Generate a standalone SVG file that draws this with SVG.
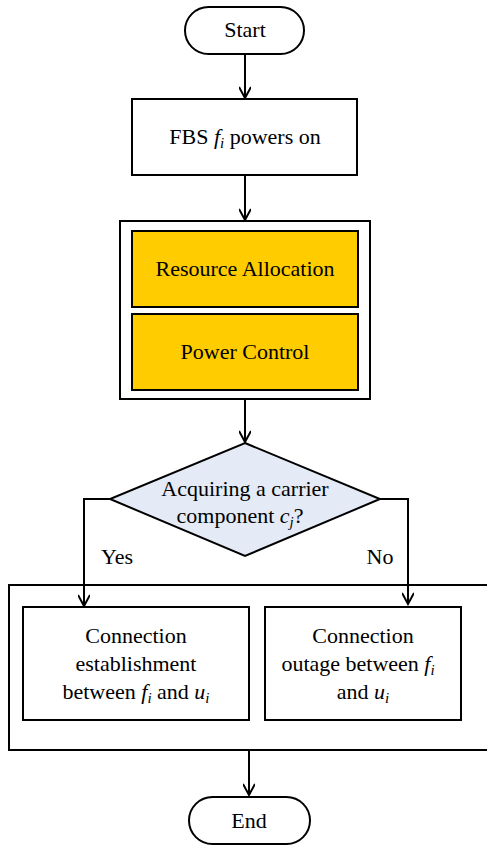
<svg xmlns="http://www.w3.org/2000/svg" width="487" height="846" viewBox="0 0 487 846" font-family="'Liberation Serif', 'DejaVu Serif', serif">
<defs>
<style>
text{font-family:'Liberation Serif','DejaVu Serif',serif;font-size:22px;fill:#000;text-anchor:middle}
.i{font-style:italic}
.s{font-size:15px;font-style:italic}
.b{fill:#fff;stroke:#000;stroke-width:2}
.y{fill:#FFCC00;stroke:#000;stroke-width:2}
.c{fill:none;stroke:#000;stroke-width:2}
</style>
<marker id="a" markerWidth="14" markerHeight="12" refX="12" refY="6" orient="auto" markerUnits="userSpaceOnUse">
<path d="M1,0 L12,6 L1,12" fill="none" stroke="#000" stroke-width="2"/>
</marker>
</defs>
<rect width="487" height="846" fill="#fff"/>
<g id="start"><rect class="b" x="185" y="7" width="119" height="47" rx="23.5"/><text x="245" y="37">Start</text></g>
<g id="fbs"><rect class="b" x="132" y="99" width="225" height="76"/><text x="245" y="144">FBS <tspan class="i">f</tspan><tspan class="s" dy="4">i</tspan><tspan dy="-4">  powers on</tspan></text></g>
<g id="group1"><rect class="b" x="120" y="221" width="250" height="178"/></g>
<g id="ra"><rect class="y" x="132" y="231" width="226" height="76"/><text x="245" y="276">Resource Allocation</text></g>
<g id="pc"><rect class="y" x="132" y="314" width="226" height="76"/><text x="245" y="359">Power Control</text></g>
<g id="decision"><polygon points="245,443 380,499 245,556 110,499" fill="#E4EAF6" stroke="#000" stroke-width="2"/><text x="245" y="496">Acquiring a carrier</text><text x="240" y="523">component <tspan class="i">c</tspan><tspan class="s" dy="4">j</tspan><tspan dy="-4">?</tspan></text></g>
<g id="group2"><path class="c" d="M490,585 L9,585 L9,750 L490,750"/></g>
<g id="est"><rect class="b" x="23" y="607" width="226" height="113"/><text x="136" y="643">Connection</text><text x="136" y="671">establishment</text><text x="136" y="699">between <tspan class="i">f</tspan><tspan class="s" dy="4">i</tspan><tspan dy="-4"> and </tspan><tspan class="i">u</tspan><tspan class="s" dy="4">i</tspan></text></g>
<g id="out"><rect class="b" x="265" y="607" width="196" height="113"/><text x="363" y="643">Connection</text><text x="358" y="671">outage between <tspan class="i">f</tspan><tspan class="s" dy="4">i</tspan></text><text x="363" y="699">and <tspan class="i">u</tspan><tspan class="s" dy="4">i</tspan></text></g>
<g id="end"><rect class="b" x="189" y="797" width="121" height="47" rx="23.5"/><text x="249" y="828">End</text></g>
<g id="connectors">
<path class="c" d="M245,54 L245,98" marker-end="url(#a)"/>
<path class="c" d="M245,175 L245,220" marker-end="url(#a)"/>
<path class="c" d="M245,399 L245,442" marker-end="url(#a)"/>
<path class="c" d="M110,499 L84,499 L84,606" marker-end="url(#a)"/>
<path class="c" d="M380,499 L408,499 L408,604" marker-end="url(#a)"/>
<path class="c" d="M249,750 L249,795" marker-end="url(#a)"/>
</g>
<text x="117" y="564">Yes</text>
<text x="380" y="564">No</text>
</svg>
